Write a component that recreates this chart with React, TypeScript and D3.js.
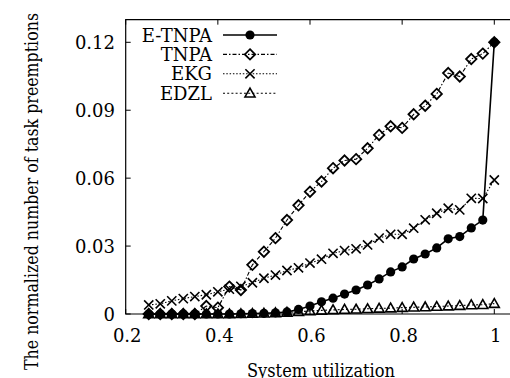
import React from "react";
import * as d3 from "d3";

const utilization = [0.25, 0.275, 0.3, 0.325, 0.35, 0.375, 0.4, 0.425, 0.45, 0.475, 0.5, 0.525, 0.55, 0.575, 0.6, 0.625, 0.65, 0.675, 0.7, 0.725, 0.75, 0.775, 0.8, 0.825, 0.85, 0.875, 0.9, 0.925, 0.95, 0.975, 1.0];

const eTnpa = [0, 0, 0, 0, 0, 0, 0, 0, 0.0001, 0.0002, 0.0003, 0.0005, 0.0009, 0.002, 0.0035, 0.0054, 0.007, 0.0088, 0.0106, 0.0128, 0.0155, 0.0186, 0.0208, 0.0243, 0.0265, 0.0292, 0.0332, 0.0342, 0.038, 0.0415, 0.12];
const tnpa = [0, 0, 0, 0, 0, 0.0035, 0.0028, 0.0121, 0.0106, 0.0217, 0.0275, 0.0335, 0.0415, 0.048, 0.054, 0.0585, 0.0644, 0.0678, 0.0684, 0.0732, 0.0791, 0.0829, 0.0822, 0.0882, 0.092, 0.0972, 0.1064, 0.1049, 0.1126, 0.115, 0.12];
const ekg = [0.004, 0.0045, 0.0058, 0.0068, 0.0077, 0.0085, 0.0098, 0.011, 0.0122, 0.0138, 0.0158, 0.0172, 0.0192, 0.0204, 0.0225, 0.0242, 0.0268, 0.028, 0.0288, 0.0305, 0.0335, 0.0352, 0.0352, 0.0379, 0.0416, 0.0445, 0.0467, 0.046, 0.0511, 0.051, 0.0592];
const edzl = [0, 0, 0, 0, 0, 0, 0, 0, 0.0001, 0.0002, 0.0003, 0.0005, 0.0007, 0.001, 0.0013, 0.0016, 0.0018, 0.002, 0.0021, 0.0023, 0.0025, 0.0026, 0.0028, 0.003, 0.0031, 0.0033, 0.0035, 0.0037, 0.004, 0.0041, 0.0046];

const xTicks = [0.2, 0.4, 0.6, 0.8, 1];
const yTicks = [0, 0.03, 0.06, 0.09, 0.12];
const xTickLabels = ["0.2", "0.4", "0.6", "0.8", "1"];
const yTickLabels = ["0", "0.03", "0.06", "0.09", "0.12"];

const seriesNames = ["E-TNPA", "TNPA", "EKG", "EDZL"];
const seriesValues = [eTnpa, tnpa, ekg, edzl];
const seriesDash = [null, "4 2 1.5 2", "1.5 1.8", "2 2.2"];
const seriesMarker = ["circle", "diamond", "cross", "triangle"];

const FONT = "'DejaVu Serif', serif";
const textStyle = { fontFamily: FONT, fontSize: "18px" };

function Marker({ type, x, y }: { type: string; x: number; y: number }) {
  if (type === "circle") return <circle cx={x} cy={y} r={4.6} fill="#000" />;
  if (type === "diamond") {
    const s = 5.2;
    return (
      <path
        d={`M${x},${y - s}L${x + s},${y}L${x},${y + s}L${x - s},${y}Z`}
        fill="none"
        stroke="#000"
        strokeWidth={1.8}
      />
    );
  }
  if (type === "cross") {
    const s = 4.6;
    return (
      <path
        d={`M${x - s},${y - s}L${x + s},${y + s}M${x - s},${y + s}L${x + s},${y - s}`}
        fill="none"
        stroke="#000"
        strokeWidth={1.6}
      />
    );
  }
  const s = 5;
  return (
    <path
      d={`M${x},${y - s}L${x + s},${y + s * 0.75}L${x - s},${y + s * 0.75}Z`}
      fill="none"
      stroke="#000"
      strokeWidth={1.6}
    />
  );
}

export default function App() {
  const W = 510;
  const H = 378;
  const x = d3.scaleLinear().domain([0.2, 1.0]).range([125.7, 494.3]);
  const y = d3.scaleLinear().domain([0, 0.12]).range([314, 42.3]);
  const left = x(0.2);
  const bottom = y(0);
  const top = y(0.13);
  const right = x(1.04);

  const line = d3
    .line<[number, number]>()
    .x((d) => x(d[0]))
    .y((d) => y(d[1]));

  const legendTextX = 212;
  const legendLineX1 = 223;
  const legendLineX2 = 277;
  const legendY0 = 35;
  const legendDY = 19.4;

  return (
    <svg
      width={W}
      height={H}
      style={{ position: "fixed", left: 0, top: 0, background: "#fff" }}
    >
      <rect x={0} y={0} width={W} height={H} fill="#fff" />
      <path
        d={`M${right},${top}L${left},${top}L${left},${bottom}L${right},${bottom}`}
        fill="none"
        stroke="#000"
        strokeWidth={1.2}
      />
      {xTicks.map((t) => (
        <g key={"xt" + t}>
          <line x1={x(t)} x2={x(t)} y1={bottom} y2={bottom - 5} stroke="#000" strokeWidth={1} />
          <line x1={x(t)} x2={x(t)} y1={top} y2={top + 5} stroke="#000" strokeWidth={1} />
        </g>
      ))}
      {yTicks.map((t) => (
        <line key={"yt" + t} x1={left} x2={left + 5} y1={y(t)} y2={y(t)} stroke="#000" strokeWidth={1} />
      ))}
      {xTicks.map((t, i) => (
        <text key={"xl" + t} x={x(t) + 1.5} y={342} style={textStyle} textAnchor="middle">
          {xTickLabels[i]}
        </text>
      ))}
      {yTicks.map((t, i) => (
        <text key={"yl" + t} x={115} y={y(t) + 6.5} style={textStyle} textAnchor="end">
          {yTickLabels[i]}
        </text>
      ))}
      <text
        x={247}
        y={377}
        style={textStyle}
        textLength={148}
        lengthAdjust="spacingAndGlyphs"
      >
        System utilization
      </text>
      <text
        transform={`translate(38,370) rotate(-90)`}
        style={textStyle}
        textLength={357}
        lengthAdjust="spacingAndGlyphs"
      >
        The normalized number of task preemptions
      </text>
      {seriesValues.map((vals, si) => {
        const pts: [number, number][] = utilization.map((u, i) => [u, vals[i]]);
        return (
          <g key={"s" + si}>
            <path
              d={line(pts) || ""}
              fill="none"
              stroke="#000"
              strokeWidth={si === 0 ? 1.6 : 1.1}
              strokeDasharray={seriesDash[si] || undefined}
            />
            {pts.map((p, i) => (
              <Marker key={i} type={seriesMarker[si]} x={x(p[0])} y={y(p[1])} />
            ))}
          </g>
        );
      })}
      {seriesNames.map((name, si) => {
        const ly = legendY0 + si * legendDY;
        return (
          <g key={"lg" + si}>
            <text x={legendTextX} y={ly + 6.5} style={textStyle} textAnchor="end">
              {name}
            </text>
            <line
              x1={legendLineX1}
              x2={legendLineX2}
              y1={ly}
              y2={ly}
              stroke="#000"
              strokeWidth={si === 0 ? 1.6 : 1.1}
              strokeDasharray={seriesDash[si] || undefined}
            />
            <Marker type={seriesMarker[si]} x={(legendLineX1 + legendLineX2) / 2} y={ly} />
          </g>
        );
      })}
    </svg>
  );
}
